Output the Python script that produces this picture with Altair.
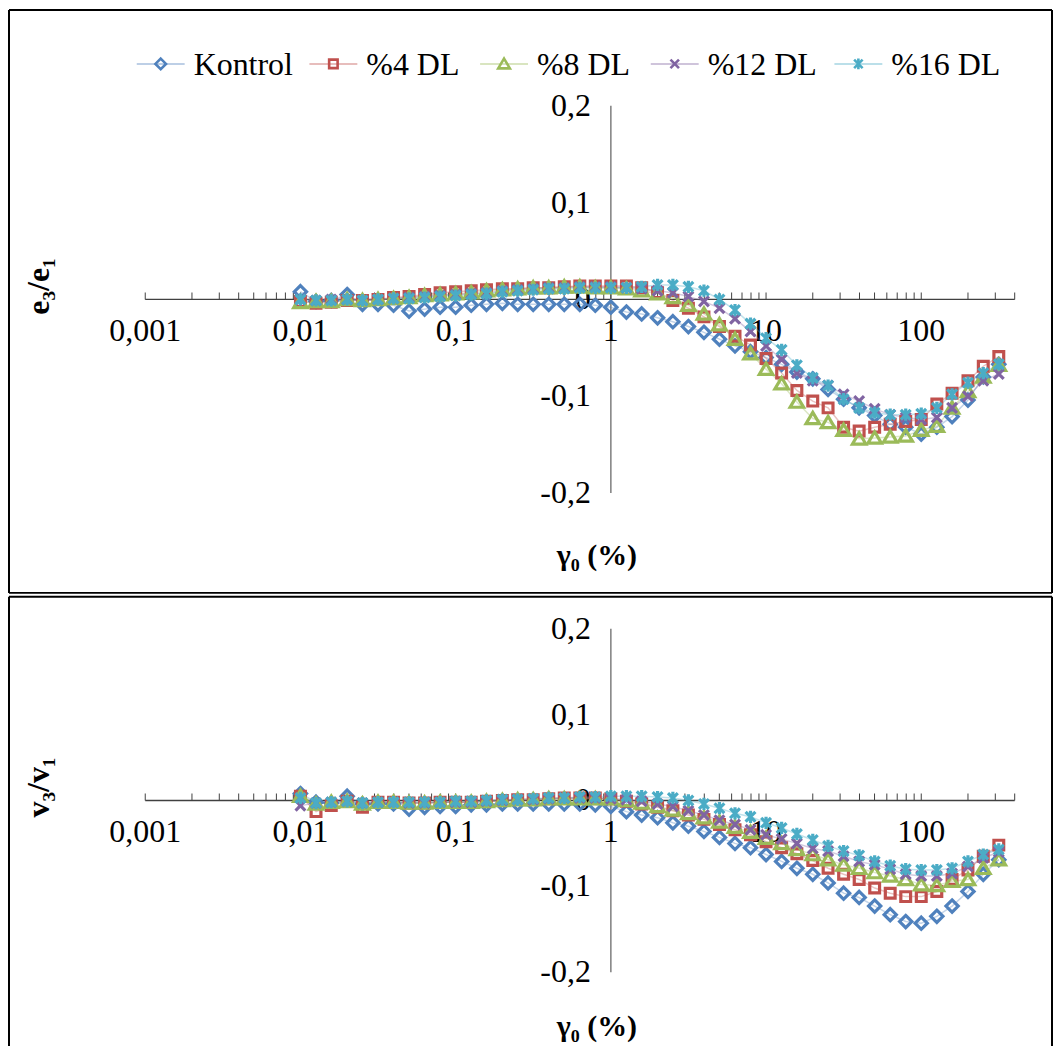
import altair as alt
import pandas as pd

# ---------------- data ----------------
strain = [0.01, 0.0126, 0.0158, 0.02, 0.0251, 0.0316, 0.0398, 0.0501, 0.0631, 0.0794,
          0.1, 0.126, 0.158, 0.2, 0.251, 0.316, 0.398, 0.501, 0.631, 0.794,
          1.0, 1.26, 1.58, 2.0, 2.51, 3.16, 3.98, 5.01, 6.31, 7.94,
          10.0, 12.6, 15.8, 20.0, 25.1, 31.6, 39.8, 50.1, 63.1, 79.4,
          100.0, 126.0, 158.0, 200.0, 251.0, 316.0]

series_names = ["Kontrol", "%4 DL", "%8 DL", "%12 DL", "%16 DL"]
series_colors = ["#4F81BD", "#C0504D", "#9BBB59", "#8064A2", "#4BACC6"]

kontrol_e = [0.008, -0.002, -0.001, 0.005, -0.005, -0.005, -0.006, -0.012, -0.010, -0.008,
             -0.008, -0.006, -0.005, -0.004, -0.005, -0.005, -0.005, -0.005, -0.005, -0.006,
             -0.008, -0.013, -0.015, -0.019, -0.023, -0.028, -0.034, -0.041, -0.048, -0.054,
             -0.060, -0.067, -0.075, -0.082, -0.093, -0.103, -0.112, -0.120, -0.129, -0.132,
             -0.139, -0.132, -0.121, -0.104, -0.080, -0.067]
dl4_e = [-0.002, -0.004, -0.003, -0.001, -0.001, 0.000, 0.002, 0.003, 0.005, 0.007,
         0.008, 0.009, 0.010, 0.011, 0.011, 0.012, 0.012, 0.013, 0.014, 0.014,
         0.014, 0.014, 0.012, 0.007, -0.001, -0.009, -0.018, -0.028, -0.038, -0.047,
         -0.061, -0.076, -0.094, -0.105, -0.112, -0.132, -0.136, -0.132, -0.129, -0.126,
         -0.124, -0.108, -0.097, -0.084, -0.069, -0.059]
dl8_e = [-0.003, -0.002, -0.002, 0.000, -0.001, 0.000, 0.001, 0.002, 0.004, 0.005,
         0.006, 0.007, 0.009, 0.010, 0.011, 0.012, 0.012, 0.013, 0.013, 0.012,
         0.012, 0.011, 0.009, 0.006, 0.002, -0.006, -0.015, -0.026, -0.041, -0.056,
         -0.072, -0.087, -0.106, -0.123, -0.127, -0.135, -0.144, -0.143, -0.142, -0.141,
         -0.135, -0.131, -0.112, -0.095, -0.080, -0.068]
dl12_e = [0.000, -0.001, 0.000, 0.000, -0.001, 0.000, 0.001, 0.002, 0.003, 0.004,
          0.005, 0.006, 0.007, 0.009, 0.010, 0.011, 0.012, 0.012, 0.013, 0.013,
          0.013, 0.012, 0.011, 0.009, 0.007, 0.003, -0.002, -0.009, -0.020, -0.033,
          -0.048, -0.062, -0.076, -0.084, -0.089, -0.098, -0.105, -0.113, -0.119, -0.122,
          -0.124, -0.122, -0.112, -0.100, -0.084, -0.077]
dl16_e = [0.000, -0.001, -0.001, 0.000, -0.001, 0.000, 0.001, 0.001, 0.002, 0.003,
          0.004, 0.005, 0.006, 0.008, 0.009, 0.010, 0.011, 0.011, 0.012, 0.012,
          0.012, 0.012, 0.013, 0.015, 0.015, 0.013, 0.009, 0.000, -0.011, -0.025,
          -0.040, -0.052, -0.068, -0.081, -0.089, -0.103, -0.112, -0.117, -0.119, -0.119,
          -0.118, -0.112, -0.098, -0.086, -0.076, -0.067]

kontrol_v = [0.008, -0.002, -0.003, 0.005, -0.004, -0.004, -0.004, -0.010, -0.008, -0.007,
             -0.007, -0.005, -0.005, -0.004, -0.004, -0.004, -0.004, -0.004, -0.004, -0.005,
             -0.007, -0.013, -0.017, -0.020, -0.026, -0.030, -0.036, -0.043, -0.050, -0.055,
             -0.063, -0.071, -0.079, -0.086, -0.096, -0.108, -0.113, -0.123, -0.133, -0.141,
             -0.143, -0.135, -0.123, -0.106, -0.086, -0.069]
dl4_v = [0.005, -0.013, -0.006, -0.001, -0.008, -0.002, -0.002, -0.003, -0.003, -0.002,
         -0.002, -0.002, -0.001, 0.000, 0.001, 0.001, 0.002, 0.003, 0.003, 0.003,
         0.002, -0.001, -0.004, -0.008, -0.012, -0.017, -0.022, -0.028, -0.034, -0.040,
         -0.048, -0.055, -0.062, -0.070, -0.079, -0.086, -0.092, -0.102, -0.108, -0.112,
         -0.112, -0.106, -0.092, -0.081, -0.065, -0.052]
dl8_v = [0.005, -0.004, -0.002, -0.001, -0.004, -0.002, -0.002, -0.003, -0.003, -0.002,
         -0.002, -0.002, -0.001, 0.000, 0.001, 0.001, 0.002, 0.002, 0.002, 0.002,
         0.002, 0.000, -0.003, -0.007, -0.011, -0.015, -0.020, -0.025, -0.031, -0.037,
         -0.044, -0.050, -0.057, -0.063, -0.069, -0.075, -0.079, -0.084, -0.088, -0.092,
         -0.098, -0.099, -0.094, -0.092, -0.079, -0.069]
dl12_v = [-0.006, -0.003, -0.002, -0.001, -0.003, -0.002, -0.002, -0.003, -0.003, -0.002,
          -0.002, -0.002, -0.001, 0.000, 0.001, 0.001, 0.002, 0.003, 0.003, 0.003,
          0.002, 0.001, -0.001, -0.004, -0.007, -0.012, -0.017, -0.023, -0.028, -0.034,
          -0.040, -0.045, -0.050, -0.056, -0.059, -0.065, -0.071, -0.075, -0.080, -0.086,
          -0.088, -0.088, -0.085, -0.077, -0.067, -0.060]
dl16_v = [0.003, -0.003, -0.002, -0.001, -0.003, -0.002, -0.002, -0.002, -0.002, -0.002,
          -0.001, -0.001, 0.000, 0.001, 0.001, 0.002, 0.003, 0.003, 0.004, 0.004,
          0.005, 0.005, 0.005, 0.004, 0.003, 0.000, -0.004, -0.009, -0.015, -0.019,
          -0.026, -0.032, -0.039, -0.046, -0.053, -0.059, -0.064, -0.071, -0.076, -0.080,
          -0.081, -0.081, -0.079, -0.071, -0.063, -0.057]

x_label_values = [0.001, 0.01, 0.1, 1, 10, 100]
x_label_texts = ["0,001", "0,01", "0,1", "1", "10", "100"]
x_tick_values = [0.001, 0.002, 0.003, 0.004, 0.005, 0.006, 0.007, 0.008, 0.009,
                 0.01, 0.02, 0.03, 0.04, 0.05, 0.06, 0.07, 0.08, 0.09,
                 0.1, 0.2, 0.3, 0.4, 0.5, 0.6, 0.7, 0.8, 0.9,
                 1, 2, 3, 4, 5, 6, 7, 8, 9,
                 10, 20, 30, 40, 50, 60, 70, 80, 90,
                 100, 200, 300, 400]
y_label_values = [-0.2, -0.1, 0.0, 0.1, 0.2]
y_label_texts = ["-0,2", "-0,1", "0", "0,1", "0,2"]
x_axis_extent = [0.001, 400]
y_axis_extent = [-0.2, 0.2]
x_title = "γ₀ (%)"

# ---------------- styling / layout ----------------
FONT = "Liberation Serif"
W = 1045
H_TOP = 584
H_BOT = 450
DECADE_PX = 155.5
X_ONE_PX = 603  # position of x=1 inside the view
X_DOMAIN = [10 ** (-X_ONE_PX / DECADE_PX), 10 ** ((W - X_ONE_PX) / DECADE_PX)]
LEGEND_CX = [152, 325, 496, 667, 851]   # legend symbol centres (px, inside panel)
LEGEND_Y = 54
LEGEND_HALF_LINE = 24
LEGEND_LABEL_GAP = 33

marker_shapes = [
    "M0,-1L1,0L0,1L-1,0Z",
    "M-0.8,-0.8H0.8V0.8H-0.8Z",
    "M0,-1L1.1,0.85H-1.1Z",
    "M-0.8,-0.8L0.8,0.8M-0.8,0.8L0.8,-0.8",
    "M-0.8,-0.8L0.8,0.8M-0.8,0.8L0.8,-0.8M0,-1V1",
]
MARKER_SIZE = 150
MARKER_STROKE = 3.2


def long_df(cols):
    rows = []
    for name, vals in zip(series_names, cols):
        for x, y in zip(strain, vals):
            rows.append({"strain": x, "ratio": y, "series": name})
    return pd.DataFrame(rows)


def frame_rule(**enc):
    return alt.Chart(pd.DataFrame({"a": [0]})).mark_rule(color="black", strokeWidth=2).encode(**enc)


def text_layer(text, x_px, y_px, size, bold=False, angle=0):
    return alt.Chart(pd.DataFrame({"t": [text]})).mark_text(
        font=FONT, fontSize=size, fontWeight="bold" if bold else "normal", color="black",
        align="center", baseline="middle", angle=angle
    ).encode(x=alt.value(x_px), y=alt.value(y_px), text="t:N")


def panel(df, H, zero_px, px_per_unit, y_title, ytitle_px, xtitle_px, with_legend):
    xs = alt.Scale(type="log", domain=X_DOMAIN, nice=False)
    ys = alt.Scale(domain=[(zero_px - H) / px_per_unit, zero_px / px_per_unit], nice=False, zero=False)
    cs = alt.Scale(domain=series_names, range=series_colors)
    ss = alt.Scale(domain=series_names, range=marker_shapes)

    hline = alt.Chart(pd.DataFrame({"x0": [x_axis_extent[0]], "x1": [x_axis_extent[1]], "y": [0]})).mark_rule(
        color="#404040", strokeWidth=1.3
    ).encode(
        x=alt.X("x0:Q", scale=xs, axis=None),
        x2="x1:Q",
        y=alt.Y("y:Q", scale=ys, axis=None),
    )
    vline = alt.Chart(pd.DataFrame({"x": [1], "y0": [y_axis_extent[0]], "y1": [y_axis_extent[1]]})).mark_rule(
        color="#868686", strokeWidth=1.6
    ).encode(
        x=alt.X("x:Q", scale=xs, axis=None),
        y=alt.Y("y0:Q", scale=ys, axis=None),
        y2="y1:Q",
    )
    ticks = alt.Chart(pd.DataFrame({"t": x_tick_values})).transform_calculate(z="0").mark_tick(
        orient="vertical", size=7, thickness=1, color="#404040", yOffset=-3.5, opacity=1
    ).encode(
        x=alt.X("t:Q", scale=xs, axis=None),
        y=alt.Y("z:Q", scale=ys, axis=None),
    )
    xlabels = alt.Chart(pd.DataFrame({"v": x_label_values, "s": x_label_texts})).mark_text(
        font=FONT, fontSize=32, color="black", align="center", baseline="middle"
    ).encode(
        x=alt.X("v:Q", scale=xs, axis=None),
        y=alt.value(zero_px + 32),
        text="s:N",
    )
    ylabels = alt.Chart(pd.DataFrame({"v": y_label_values, "s": y_label_texts})).mark_text(
        font=FONT, fontSize=32, color="black", align="right", baseline="middle"
    ).encode(
        x=alt.value(X_ONE_PX - 20),
        y=alt.Y("v:Q", scale=ys, axis=None),
        text="s:N",
    )
    lines = alt.Chart(df).mark_line(strokeWidth=1.5, opacity=0.35).encode(
        x=alt.X("strain:Q", scale=xs, axis=None),
        y=alt.Y("ratio:Q", scale=ys, axis=None),
        color=alt.Color("series:N", scale=cs, legend=None),
        detail="series:N",
    )
    points = alt.Chart(df).mark_point(size=MARKER_SIZE, filled=False, strokeWidth=MARKER_STROKE,
                                      opacity=1).encode(
        x=alt.X("strain:Q", scale=xs, axis=None),
        y=alt.Y("ratio:Q", scale=ys, axis=None),
        color=alt.Color("series:N", scale=cs, legend=None),
        shape=alt.Shape("series:N", scale=ss, legend=None),
    )

    layers = [hline, vline, ticks, xlabels, ylabels, lines, points,
              text_layer(x_title, X_ONE_PX - 14, xtitle_px, 30, bold=True),
              text_layer(y_title, 30, ytitle_px, 32, bold=True, angle=270),
              frame_rule(x=alt.value(0), y=alt.value(0), y2=alt.value(H)),
              frame_rule(x=alt.value(W), y=alt.value(0), y2=alt.value(H)),
              frame_rule(x=alt.value(0), x2=alt.value(W), y=alt.value(0))]

    if with_legend:
        layers.append(frame_rule(x=alt.value(0), x2=alt.value(W), y=alt.value(H)))
        leg_df = pd.DataFrame({"series": series_names, "cx": LEGEND_CX})
        leg_base = alt.Chart(leg_df).transform_calculate(
            l=f"datum.cx - {LEGEND_HALF_LINE}", r=f"datum.cx + {LEGEND_HALF_LINE}",
            tx=f"datum.cx + {LEGEND_LABEL_GAP}"
        )
        leg_line = leg_base.mark_rule(strokeWidth=1.5, opacity=0.5).encode(
            x=alt.X("l:Q", scale=None, axis=None), x2="r:Q", y=alt.value(LEGEND_Y),
            color=alt.Color("series:N", scale=cs, legend=None),
        )
        leg_sym = leg_base.mark_point(size=MARKER_SIZE * 0.75, filled=False, strokeWidth=2.6,
                                      opacity=1).encode(
            x=alt.X("cx:Q", scale=None, axis=None), y=alt.value(LEGEND_Y),
            color=alt.Color("series:N", scale=cs, legend=None),
            shape=alt.Shape("series:N", scale=ss, legend=None),
        )
        leg_txt = leg_base.mark_text(font=FONT, fontSize=32, color="black", align="left",
                                     baseline="middle").encode(
            x=alt.X("tx:Q", scale=None, axis=None), y=alt.value(LEGEND_Y + 1), text="series:N",
        )
        layers += [leg_line, leg_sym, leg_txt]

    return alt.layer(*layers).properties(width=W, height=H)


df_e = long_df([kontrol_e, dl4_e, dl8_e, dl12_e, dl16_e])
df_v = long_df([kontrol_v, dl4_v, dl8_v, dl12_v, dl16_v])

top = panel(df_e, H_TOP, 290, 970.0, "e₃/e₁", 285 - 8, 555 - 8, True)
bottom = panel(df_v, H_BOT, 204, 860.0, "v₃/v₁", 785 - 594, 1025 - 594, False)

chart = alt.vconcat(top, bottom, spacing=2).properties(padding=0).configure_view(stroke=None)

chart.save("out.html", embed_options={"renderer": "svg", "actions": False})
